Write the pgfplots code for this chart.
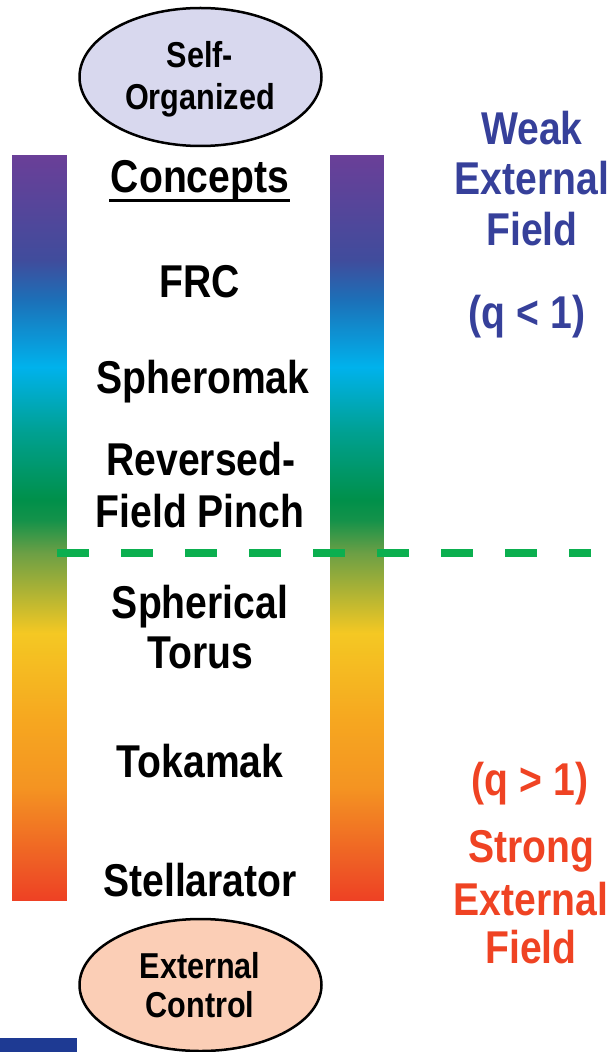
\documentclass[border=0pt]{standalone}
\usepackage{fontspec}
\setmainfont{Liberation Sans}[FakeStretch=0.85]
\usepackage{pgfplots}
\usepackage{pgfplotstable}
\pgfplotsset{compat=1.18}

\definecolor{weakblue}{RGB}{54,64,154}
\definecolor{strongred}{RGB}{239,67,35}
\definecolor{dashgreen}{RGB}{11,175,79}
\definecolor{topfill}{RGB}{216,216,238}
\definecolor{botfill}{RGB}{251,206,182}
\definecolor{cornerblue}{RGB}{30,58,147}

\pgfplotsset{colormap={rainbar}{%
  rgb255(155pt)=(106,63,152);
  rgb255(260pt)=(64,76,156);
  rgb255(300pt)=(28,112,184);
  rgb255(367pt)=(0,178,236);
  rgb255(433pt)=(0,160,144);
  rgb255(500pt)=(0,144,74);
  rgb255(520pt)=(20,146,74);
  rgb255(553pt)=(108,159,69);
  rgb255(633pt)=(244,200,35);
  rgb255(720pt)=(246,167,32);
  rgb255(787pt)=(244,148,34);
  rgb255(867pt)=(238,90,37);
  rgb255(900pt)=(238,65,36)}}

% colour bar: x edges, y of each colour stop, meta = y
\pgfplotstableread{
x  y   m
0  155 155
1  155 155
0  260 260
1  260 260
0  300 300
1  300 300
0  367 367
1  367 367
0  433 433
1  433 433
0  500 500
1  500 500
0  520 520
1  520 520
0  553 553
1  553 553
0  633 633
1  633 633
0  720 720
1  720 720
0  787 787
1  787 787
0  867 867
1  867 867
0  900 900
1  900 900
}\bartable

\newcommand\lab{\fontsize{46bp}{50bp}\selectfont\bfseries}
\newcommand\ovaltext{\fontsize{36bp}{40bp}\selectfont\bfseries}

\begin{document}
\begin{tikzpicture}
\begin{axis}[
  name=ax,
  scale only axis,
  width=616bp, height=1052bp,
  xmin=0, xmax=616, ymin=0, ymax=1052,
  y dir=reverse,
  hide axis,
  clip=false,
  colormap name=rainbar,
  point meta min=155, point meta max=900,
]
% left and right colour bars
\addplot[surf, shader=interp, mesh/cols=2, point meta=explicit]
  table[x expr={12+55*\thisrow{x}}, y=y, meta=m] {\bartable};
\addplot[surf, shader=interp, mesh/cols=2, point meta=explicit]
  table[x expr={330+53*\thisrow{x}}, y=y, meta=m] {\bartable};

% q = 1 boundary
\addplot[dashgreen, line width=7.5bp, dash pattern=on 32bp off 32bp]
  coordinates {(57,553) (591,553)};

% ovals
\draw[line width=2.5bp, fill=topfill] (200.5,77) ellipse [x radius=121bp, y radius=69bp];
\draw[line width=2.5bp, fill=botfill] (200.5,985) ellipse [x radius=121bp, y radius=66bp];
\node[anchor=base, font=\ovaltext] at (200,68) {Self-};
\node[anchor=base, font=\ovaltext] at (200,110) {Organized};
\node[anchor=base, font=\ovaltext] at (200,978) {External};
\node[anchor=base, font=\ovaltext] at (200,1017) {Control};

% concepts
\node[anchor=base, font=\lab] at (200,193) {Concepts};
\draw[line width=3bp] (109,201) -- (290,201);
\node[anchor=base, font=\lab] at (200,297) {FRC};
\node[anchor=base, font=\lab] at (203,393) {Spheromak};
\node[anchor=base, font=\lab] at (201,475) {Reversed-};
\node[anchor=base, font=\lab] at (200,527) {Field Pinch};
\node[anchor=base, font=\lab] at (200,618) {Spherical};
\node[anchor=base, font=\lab] at (200,668) {Torus};
\node[anchor=base, font=\lab] at (200,777) {Tokamak};
\node[anchor=base, font=\lab] at (200,896) {Stellarator};

% right side
\node[anchor=base, font=\lab, text=weakblue] at (532,145) {Weak};
\node[anchor=base, font=\lab, text=weakblue] at (532,195) {External};
\node[anchor=base, font=\lab, text=weakblue] at (532,245) {Field};
\node[anchor=base, font=\lab, text=weakblue] at (527,328) {(q < 1)};
\node[anchor=base, font=\lab, text=strongred] at (530,795) {(q > 1)};
\node[anchor=base, font=\lab, text=strongred] at (531,862) {Strong};
\node[anchor=base, font=\lab, text=strongred] at (531,915) {External};
\node[anchor=base, font=\lab, text=strongred] at (531,963) {Field};

\fill[cornerblue] (0,1038) rectangle (77,1052);
\end{axis}
\pgfresetboundingbox
\path[use as bounding box] (ax.south west) rectangle (ax.north east);
\end{tikzpicture}
\end{document}
